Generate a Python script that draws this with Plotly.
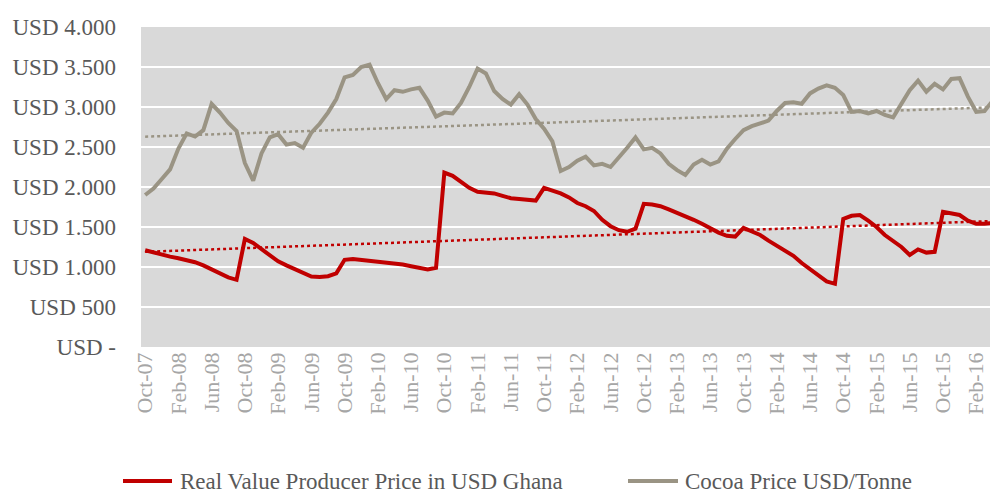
import numpy as np
import plotly.graph_objects as go

# Monthly series, Oct-07 .. Apr-16 (103 months)
producer_price = [
    1210, 1180, 1150, 1130, 1110, 1090, 1060, 1020, 970, 920, 870, 840,
    1350, 1300, 1220, 1140, 1070, 1020, 970, 920, 880, 875, 885, 920,
    1090, 1100, 1090, 1070, 1060, 1050, 1040, 1030, 1010, 985, 970, 990,
    2180, 2140, 2070, 1990, 1940, 1930, 1920, 1890, 1860, 1850, 1840, 1830,
    1990, 1960, 1920, 1870, 1800, 1760, 1700, 1590, 1510, 1460, 1440, 1480,
    1790, 1780, 1760, 1720, 1680, 1640, 1590, 1540, 1480, 1430, 1390, 1380,
    1490, 1450, 1400, 1330, 1270, 1210, 1140, 1050, 970, 890, 820, 790,
    1600, 1640, 1650, 1580, 1500, 1400, 1320, 1250, 1150, 1220, 1180, 1190,
    1690, 1670, 1650, 1580, 1540, 1540, 1550,
]
cocoa_price = [
    1900, 1980, 2100, 2220, 2480, 2670, 2630, 2710, 3040, 2930, 2800, 2700,
    2300, 2080, 2420, 2620, 2660, 2530, 2550, 2490, 2680, 2790, 2930, 3100,
    3370, 3400, 3500, 3530, 3300, 3100, 3210, 3190, 3220, 3240, 3080, 2880,
    2930, 2920, 3050, 3250, 3480, 3420, 3200, 3100, 3030, 3160, 3030, 2850,
    2730, 2570, 2200, 2250, 2330, 2380, 2270, 2290, 2250, 2380, 2490, 2620,
    2470, 2490, 2420, 2290, 2210, 2150, 2280, 2340, 2280, 2320, 2480, 2600,
    2710, 2760, 2800, 2830, 2950, 3050, 3060, 3040, 3170, 3230, 3270, 3240,
    3150, 2940, 2950, 2920, 2950, 2900, 2870, 3050, 3210, 3330, 3190, 3290,
    3220, 3350, 3360, 3130, 2940, 2950, 3080,
]
series_names = ["Real Value Producer Price in USD Ghana", "Cocoa Price USD/Tonne"]
tick_labels = [
    "Oct-07", "Feb-08", "Jun-08", "Oct-08", "Feb-09", "Jun-09", "Oct-09",
    "Feb-10", "Jun-10", "Oct-10", "Feb-11", "Jun-11", "Oct-11", "Feb-12",
    "Jun-12", "Oct-12", "Feb-13", "Jun-13", "Oct-13", "Feb-14", "Jun-14",
    "Oct-14", "Feb-15", "Jun-15", "Oct-15", "Feb-16",
]
y_tick_values = [0, 500, 1000, 1500, 2000, 2500, 3000, 3500, 4000]
y_tick_labels = ["USD -", "USD 500", "USD 1.000", "USD 1.500", "USD 2.000",
                 "USD 2.500", "USD 3.000", "USD 3.500", "USD 4.000"]

x = np.arange(len(producer_price))
tick_positions = x[::4][:len(tick_labels)]

# linear trendlines (as Excel)
def trend(vals):
    k, b = np.polyfit(x, vals, 1)
    return k * x + b

RED = "#c00000"
GRAY = "#9a9484"
FONT = "Liberation Serif"

W, H = 990, 485
ML, MR, MT, MB = 133, 1, 19, 146
PW, PH = W - ML - MR, H - MT - MB

def px_to_paper_x(px):
    return (px - ML) / PW

def px_to_paper_y(py):
    return (H - MB - py) / PH

fig = go.Figure()
fig.add_trace(go.Scatter(x=x, y=producer_price, mode="lines",
                         name=series_names[0], showlegend=False,
                         line=dict(color=RED, width=4)))
fig.add_trace(go.Scatter(x=x, y=cocoa_price, mode="lines",
                         name=series_names[1], showlegend=False,
                         line=dict(color=GRAY, width=4)))
fig.add_trace(go.Scatter(x=x, y=trend(producer_price), mode="lines",
                         showlegend=False, hoverinfo="skip",
                         line=dict(color=RED, width=2.5, dash="dot")))
fig.add_trace(go.Scatter(x=x, y=trend(cocoa_price), mode="lines",
                         showlegend=False, hoverinfo="skip",
                         line=dict(color=GRAY, width=2.5, dash="dot")))

# legend drawn below the chart (line sample + label)
legend_items = [(series_names[0], RED, 115, 164, 170),
                (series_names[1], GRAY, 620, 670, 675)]
legend_y = px_to_paper_y(473)
for name, color, x0, x1, xt in legend_items:
    fig.add_shape(type="line", xref="paper", yref="paper",
                  x0=px_to_paper_x(x0), x1=px_to_paper_x(x1),
                  y0=legend_y, y1=legend_y,
                  line=dict(color=color, width=4))
    fig.add_annotation(xref="paper", yref="paper", x=px_to_paper_x(xt),
                       y=legend_y, text=name, showarrow=False,
                       xanchor="left", yanchor="middle",
                       font=dict(size=23, color="#595959", family=FONT))

fig.update_layout(
    width=W, height=H,
    margin=dict(l=ML, r=MR, t=MT, b=MB),
    paper_bgcolor="white",
    plot_bgcolor="#d9d9d9",
    font=dict(family=FONT, color="#595959"),
    showlegend=False,
    xaxis=dict(range=[-0.5, len(x) - 0.5], tickmode="array",
               tickvals=tick_positions, ticktext=tick_labels, tickangle=-90,
               showgrid=False, zeroline=False, showline=False, ticks="",
               automargin=False,
               tickfont=dict(size=22, color="#a6a6a6", family=FONT)),
    yaxis=dict(range=[0, 4000], tickmode="array", tickvals=y_tick_values,
               ticktext=y_tick_labels, showgrid=True, gridcolor="white",
               gridwidth=2, zeroline=False, showline=False, ticks="",
               ticklabelstandoff=24, automargin=False,
               tickfont=dict(size=23, color="#595959", family=FONT)),
)

fig.write_html("out.html")
